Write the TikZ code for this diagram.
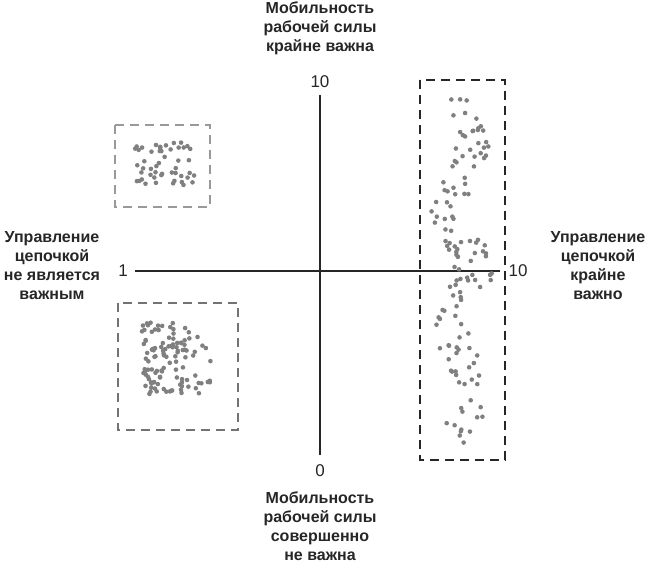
\documentclass[tikz,border=0pt]{standalone}
\usepackage{fontspec}
\setmainfont{Liberation Sans}
\begin{document}
\begin{tikzpicture}[x=1pt,y=-1pt,
  lbl/.style={font=\bfseries\fontsize{16}{19}\selectfont, align=center, text=black!85},
  num/.style={font=\fontsize{17}{18}\selectfont, text=black!85},
  dot/.style={fill=black!50, draw=none},
  box/.style={dashed, dash pattern=on 9pt off 6pt, line width=1.8pt}]
\useasboundingbox (0,0) rectangle (649,570);
\coordinate (T) at (320,95);
\coordinate (B) at (320,455);
\coordinate (L) at (135,271);
\coordinate (R) at (500,271);
\draw[line width=1.3pt, black!85] (T) -- (B);
\draw[line width=1.3pt, black!85] (L) -- (R);
\node[num] (n10t) at (320,82) {10};
\node[num] (n0) at (320,471) {0};
\node[num] (n1) at (123,271) {1};
\node[num] (n10r) at (518,271) {10};
\node[lbl] (top) at (320,28) {Мобильность\\рабочей силы\\крайне важна};
\node[lbl] (bot) at (320,526) {Мобильность\\рабочей силы\\совершенно\\не важна};
\node[lbl] (left) at (52,266) {Управление\\цепочкой\\не является\\важным};
\node[lbl] (right) at (598,266) {Управление\\цепочкой\\крайне\\важно};
\draw[box, black!40] (115,125) rectangle (210,207);
\draw[box, black!55] (118,303) rectangle (238,430);
\draw[box, black!85] (420,80) rectangle (505,460);
\pgfmathsetseed{7}
\foreach \i in {1,...,50}{
  \pgfmathsetmacro{\px}{135+rnd*60}
  \pgfmathsetmacro{\py}{140+rnd*45}
  \fill[dot] (\px,\py) circle (2.3pt);
}
\foreach \i in {1,...,100}{
  \pgfmathsetmacro{\px}{142+rnd*48}
  \pgfmathsetmacro{\py}{322+rnd*72}
  \fill[dot] (\px,\py) circle (2.3pt);
}
\foreach \i in {1,...,14}{
  \pgfmathsetmacro{\px}{192+rnd*20}
  \pgfmathsetmacro{\py}{335+rnd*60}
  \fill[dot] (\px,\py) circle (2.3pt);
}
\foreach \i in {1,...,130}{
  \pgfmathsetmacro{\py}{97+rnd*348}
  \pgfmathsetmacro{\px}{462+12*sin(\py*3)+(rnd-0.5)*40}
  \fill[dot] (\px,\py) circle (2.3pt);
}
\end{tikzpicture}
\end{document}
